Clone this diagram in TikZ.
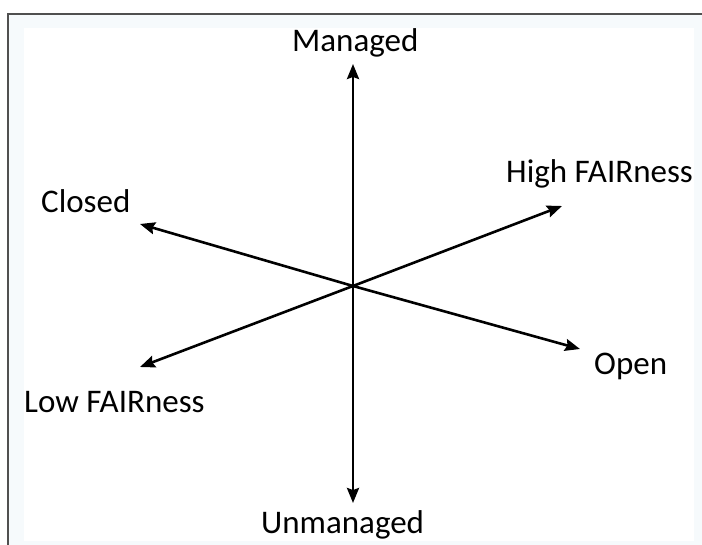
\documentclass[tikz,border=0pt]{standalone}
\usepackage{fontspec}
\setmainfont{Carlito}
\usetikzlibrary{arrows.meta}
\definecolor{tint}{RGB}{246,250,252}
\definecolor{frame}{RGB}{80,80,80}
\tikzset{
  axis/.style={line width=2.6pt, -{Stealth[length=15pt,width=12pt,inset=2pt]}},
  lbl/.style={inner sep=0pt, font=\fontsize{33}{40}\selectfont, text=black}
}
\begin{document}
\begin{tikzpicture}[x=1pt,y=-1pt]
\useasboundingbox (0,0) rectangle (702,545);
\fill[white] (0,0) rectangle (702,545);
\fill[tint] (8,14) rectangle (702,545);
\fill[white] (24,28) rectangle (694,541);
\draw[frame, line width=1.4pt] (8,545) -- (8,14) -- (702,14);
% labels
\node[lbl, anchor=base west] (managed) at (292,52) {Managed};
\node[lbl, anchor=base west] (high) at (506,183) {High FAIRness};
\node[lbl, anchor=base west] (closed) at (41,213) {Closed};
\node[lbl, anchor=base west] (open) at (594,375) {Open};
\node[lbl, anchor=base west] (low) at (24,413) {Low FAIRness};
\node[lbl, anchor=base west] (unmanaged) at (261,533) {Unmanaged};
% axes
\coordinate (c) at (353,286);
\coordinate (tUp) at (353,64);
\coordinate (tDown) at (353,503);
\coordinate (tHigh) at (562,206);
\coordinate (tLow) at (140,367);
\coordinate (tClosed) at (140,224);
\coordinate (tOpen) at (580,349);
\draw[axis] (c) -- (tUp);
\draw[axis] (c) -- (tDown);
\draw[axis] (c) -- (tHigh);
\draw[axis] (c) -- (tLow);
\draw[axis] (c) -- (tClosed);
\draw[axis] (c) -- (tOpen);
\end{tikzpicture}
\end{document}
